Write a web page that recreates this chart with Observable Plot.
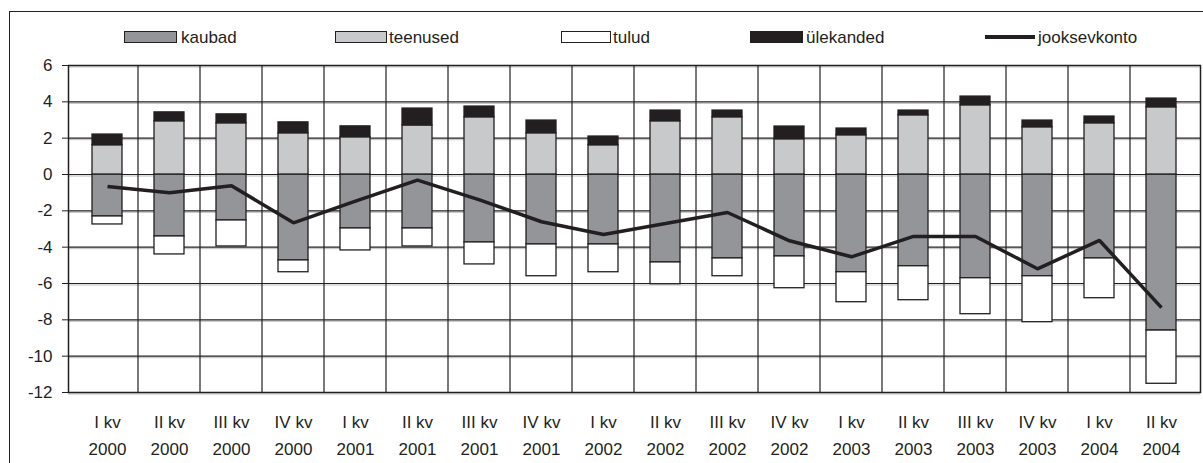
<!DOCTYPE html>
<html>
<head>
<meta charset="utf-8">
<script src="https://cdn.jsdelivr.net/npm/d3@7"></script>
<script src="https://cdn.jsdelivr.net/npm/@observablehq/plot@0.6"></script>
<style>
  html, body { margin: 0; padding: 0; background: #fff; overflow: hidden; }
  #wrap { position: relative; width: 1203px; height: 463px; overflow: hidden; font-family: "Liberation Sans", Arial, sans-serif; color: #231f20; }
  #outer { position: absolute; left: 9px; top: 11px; width: 1400px; height: 600px; border-left: 1.5px solid #231f20; border-top: 1.5px solid #231f20; box-sizing: border-box; }
  #legend { position: relative; height: 50px; }
  .sw { position: absolute; top: 30.5px; height: 12px; box-sizing: border-box; border: 1px solid #231f20; }
  .lab { position: absolute; top: 28.5px; font-size: 17px; line-height: 17px; white-space: nowrap; }
  .ln { position: absolute; top: 35px; height: 3.5px; background: #231f20; }
  #chart { position: relative; }
</style>
</head>
<body>
<div id="wrap">
  <div id="outer"></div>
  <div id="legend"></div>
  <div id="chart"></div>
</div>
<script>
// ---- data ----
const quarters = ["I kv","II kv","III kv","IV kv","I kv","II kv","III kv","IV kv","I kv","II kv","III kv","IV kv","I kv","II kv","III kv","IV kv","I kv","II kv"];
const years    = ["2000","2000","2000","2000","2001","2001","2001","2001","2002","2002","2002","2002","2003","2003","2003","2003","2004","2004"];
const kaubad      = [-2.31,-3.41,-2.53,-4.73,-2.97,-2.97,-3.74,-3.85,-3.85,-4.84,-4.62,-4.51,-5.38,-5.05,-5.71,-5.60,-4.62,-8.59];
const teenused    = [1.61, 2.93, 2.82, 2.27, 2.05, 2.70, 3.15, 2.27, 1.61, 2.93, 3.15, 1.94, 2.16, 3.26, 3.81, 2.60, 2.82, 3.70];
const tulud       = [-0.44,-0.99,-1.43,-0.65,-1.21,-0.99,-1.21,-1.75,-1.53,-1.20,-0.98,-1.75,-1.65,-1.87,-1.98,-2.53,-2.19,-2.93];
const ulekanded   = [0.59, 0.49, 0.49, 0.60, 0.60, 0.93, 0.59, 0.70, 0.48, 0.59, 0.37, 0.70, 0.37, 0.26, 0.48, 0.37, 0.37, 0.48];
const jooksevkonto= [-0.66,-1.01,-0.62,-2.66,-1.47,-0.31,-1.40,-2.60,-3.30,-2.70,-2.09,-3.65,-4.53,-3.41,-3.41,-5.19,-3.63,-7.33];
const seriesNames = ["kaubad","teenused","tulud","ülekanded"];
const seriesColors = ["#939598","#c8c9cb","#ffffff","#231f20"];
const lineName = "jooksevkonto";
const yTicks = [-12,-10,-8,-6,-4,-2,0,2,4,6];

const categories = quarters.map((q, i) => q + "\n" + years[i]);
const seriesValues = [kaubad, teenused, tulud, ulekanded];
const rows = [];
categories.forEach((c, i) => {
  seriesNames.forEach((s, k) => rows.push({cat: c, series: s, value: seriesValues[k][i]}));
});
const lineRows = categories.map((c, i) => ({cat: c, value: jooksevkonto[i]}));

// ---- legend ----
const legend = document.getElementById("legend");
const legendPos = [
  {sw: 124, w: 53, lab: 181},
  {sw: 335, w: 52, lab: 389},
  {sw: 561, w: 50, lab: 613},
  {sw: 750, w: 53, lab: 806}
];
seriesNames.forEach((s, k) => {
  const p = legendPos[k];
  const sw = document.createElement("div");
  sw.className = "sw";
  sw.style.left = p.sw + "px";
  sw.style.width = p.w + "px";
  sw.style.background = seriesColors[k];
  legend.appendChild(sw);
  const lab = document.createElement("div");
  lab.className = "lab";
  lab.style.left = p.lab + "px";
  lab.textContent = s;
  legend.appendChild(lab);
});
{
  const ln = document.createElement("div");
  ln.className = "ln";
  ln.style.left = "985px";
  ln.style.width = "50px";
  legend.appendChild(ln);
  const lab = document.createElement("div");
  lab.className = "lab";
  lab.style.left = "1038px";
  lab.textContent = lineName;
  legend.appendChild(lab);
}

// ---- vertical band-boundary gridlines ----
function bandGrid(index, scales, values, dimensions) {
  const x = scales.x;
  const bw = x.bandwidth ? x.bandwidth() : 0;
  const step = x.step ? x.step() : bw;
  const g = d3.create("svg:g").attr("stroke", "#231f20").attr("stroke-width", 1.2);
  const cats = x.domain();
  cats.forEach((c, i) => {
    if (i === 0) return;
    const xb = x(c) + bw / 2 - step / 2;
    g.append("line")
      .attr("x1", xb).attr("x2", xb)
      .attr("y1", dimensions.marginTop)
      .attr("y2", dimensions.height - dimensions.marginBottom);
  });
  return g.node();
}

const chart = Plot.plot({
  width: 1203,
  height: 413,
  marginTop: 15,
  marginBottom: 71,
  marginLeft: 68,
  marginRight: 3,
  style: {fontFamily: "'Liberation Sans', Arial, sans-serif", fontSize: "17px", color: "#231f20", background: "transparent"},
  x: {domain: categories, paddingInner: 0.515, paddingOuter: 0.2575, align: 0.5, label: null},
  y: {domain: [-12, 6], label: null},
  color: {domain: seriesNames, range: seriesColors},
  marks: [
    Plot.ruleY(yTicks, {stroke: "#bcbec0", strokeWidth: 1, dy: 1.5}),
    Plot.ruleY(yTicks, {stroke: "#231f20", strokeWidth: 1.2}),
    bandGrid,
    Plot.barY(rows, {x: "cat", y: "value", fill: "series", stroke: "#231f20", strokeWidth: 1.3}),
    Plot.line(lineRows, {x: "cat", y: "value", stroke: "#231f20", strokeWidth: 3.5, strokeLinejoin: "miter", strokeLinecap: "butt"}),
    Plot.frame({stroke: "#231f20", strokeWidth: 1.5}),
    Plot.axisY({ticks: yTicks, tickSize: 6, tickPadding: 10, tickFormat: d => String(d), fontSize: 17, label: null, stroke: "#231f20"}),
    Plot.axisX({tickSize: 0, tickPadding: 17, fontSize: 17, lineHeight: 1.55, label: null})
  ]
});
document.getElementById("chart").appendChild(chart);
</script>
</body>
</html>
